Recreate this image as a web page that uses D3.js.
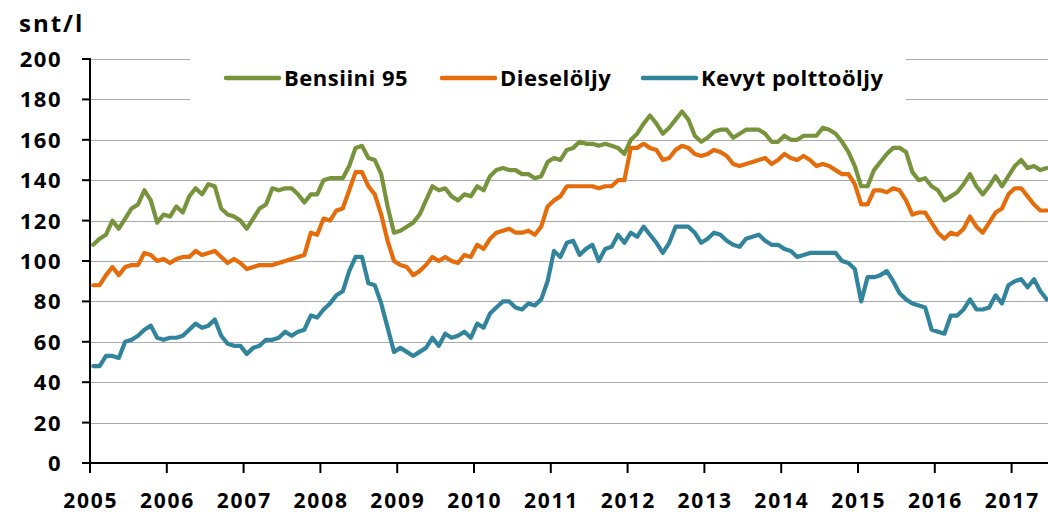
<!DOCTYPE html>
<html>
<head>
<meta charset="utf-8">
<script src="https://cdn.jsdelivr.net/npm/d3@7"></script>
<style>
  body { margin: 0; background: #fff; }
  text { font-family: "Open Sans", "Liberation Sans", sans-serif; font-weight: 700; fill: #000; }
</style>
</head>
<body>
<svg id="chart" width="1048" height="515"></svg>
<script>
// Monthly fuel prices, snt/l, January 2005 – June 2017
const yearLabels = ["2005","2006","2007","2008","2009","2010","2011","2012","2013","2014","2015","2016","2017"];
const yTicks = [0, 20, 40, 60, 80, 100, 120, 140, 160, 180, 200];
const seriesNames = ["Bensiini 95", "Dieselöljy", "Kevyt polttoöljy"];

const bensiini95 = [
  108, 111, 113, 120, 116, 121, 126, 128, 135, 130, 119, 123,
  122, 127, 124, 132, 136, 133, 138, 137, 126, 123, 122, 120,
  116, 121, 126, 128, 136, 135, 136, 136, 133, 129, 133, 133,
  140, 141, 141, 141, 147, 156, 157, 151, 150, 143, 127, 114,
  115, 117, 119, 123, 130, 137, 135, 136, 132, 130, 133, 132,
  137, 135, 142, 145, 146, 145, 145, 143, 143, 141, 142, 149,
  151, 150, 155, 156, 159, 158, 158, 157, 158, 157, 156, 153,
  160, 163, 168, 172, 168, 163, 166, 170, 174, 170, 162, 159,
  161, 164, 165, 165, 161, 163, 165, 165, 165, 163, 159, 159,
  162, 160, 160, 162, 162, 162, 166, 165, 163, 159, 154, 147,
  137, 137, 145, 149, 153, 156, 156, 154, 144, 140, 141, 137,
  135, 130, 132, 134, 138, 143, 137, 133, 137, 142, 137, 142,
  147, 150, 146, 147, 145, 146
];

const dieselolja = [
   88,  88,  93,  97,  93,  97,  98,  98, 104, 103, 100, 101,
   99, 101, 102, 102, 105, 103, 104, 105, 102,  99, 101,  99,
   96,  97,  98,  98,  98,  99, 100, 101, 102, 103, 114, 113,
  121, 120, 125, 126, 135, 144, 144, 137, 133, 123, 110, 100,
   98,  97,  93,  95,  98, 102, 100, 102, 100,  99, 103, 102,
  108, 106, 111, 114, 115, 116, 114, 114, 115, 113, 117, 127,
  130, 132, 137, 137, 137, 137, 137, 136, 137, 137, 140, 140,
  156, 156, 158, 156, 155, 150, 151, 155, 157, 156, 153, 152,
  153, 155, 154, 152, 148, 147, 148, 149, 150, 151, 148, 150,
  153, 151, 150, 152, 150, 147, 148, 147, 145, 143, 143, 138,
  128, 128, 135, 135, 134, 136, 135, 130, 123, 124, 124, 119,
  114, 111, 114, 113, 116, 122, 117, 114, 119, 124, 126, 133,
  136, 136, 132, 128, 125, 125
];

const kevytPolttooljy = [
   48,  48,  53,  53,  52,  60,  61,  63,  66,  68,  62,  61,
   62,  62,  63,  66,  69,  67,  68,  71,  63,  59,  58,  58,
   54,  57,  58,  61,  61,  62,  65,  63,  65,  66,  73,  72,
   76,  79,  83,  85,  95, 102, 102,  89,  88,  79,  67,  55,
   57,  55,  53,  55,  57,  62,  58,  64,  62,  63,  65,  62,
   69,  67,  74,  77,  80,  80,  77,  76,  79,  78,  81,  90,
  105, 102, 109, 110, 103, 106, 108, 100, 106, 107, 113, 109,
  114, 112, 117, 113, 109, 104, 109, 117, 117, 117, 114, 109,
  111, 114, 113, 110, 108, 107, 111, 112, 113, 110, 108, 108,
  106, 105, 102, 103, 104, 104, 104, 104, 104, 100,  99,  96,
   80,  92,  92,  93,  95,  90,  84,  81,  79,  78,  77,  66,
   65,  64,  73,  73,  76,  81,  76,  76,  77,  83,  79,  88,
   90,  91,  87,  91,  85,  81
];

const seriesColors = ["#77933C", "#E46C0A", "#31849B"];
const seriesValues = [bensiini95, dieselolja, kevytPolttooljy];

const svg = d3.select("#chart");
const plotLeft = 90, plotRight = 1048, plotTop = 59, plotBottom = 463;

// month index scale: each month occupies one unit, points sit mid-month
const x = d3.scaleLinear().domain([0, 150]).range([plotLeft, plotLeft + 960]);
const y = d3.scaleLinear().domain([0, 200]).range([plotBottom, plotTop]);

// horizontal gridlines
svg.append("g")
  .selectAll("line")
  .data(yTicks.filter(d => d > 0))
  .join("line")
  .attr("x1", plotLeft).attr("x2", plotRight)
  .attr("y1", d => Math.round(y(d)) + 0.5).attr("y2", d => Math.round(y(d)) + 0.5)
  .attr("stroke", "#a9a9a9").attr("stroke-width", 1.2);

// data lines
const line = d3.line()
  .x((d, i) => x(i + 0.5))
  .y(d => y(d))
  .curve(d3.curveLinear);

svg.append("g")
  .selectAll("path")
  .data(seriesValues)
  .join("path")
  .attr("d", d => line(d))
  .attr("fill", "none")
  .attr("stroke", (d, i) => seriesColors[i])
  .attr("stroke-width", 4.2)
  .attr("stroke-linejoin", "round")
  .attr("stroke-linecap", "round");

// y axis
const yAxisG = svg.append("g");
yAxisG.append("line")
  .attr("x1", plotLeft).attr("x2", plotLeft)
  .attr("y1", plotTop - 1).attr("y2", plotBottom + 1)
  .attr("stroke", "#000").attr("stroke-width", 2);
yAxisG.selectAll("line.tick")
  .data(yTicks)
  .join("line")
  .attr("class", "tick")
  .attr("x1", plotLeft - 8).attr("x2", plotLeft)
  .attr("y1", d => y(d)).attr("y2", d => y(d))
  .attr("stroke", "#000").attr("stroke-width", 2);
yAxisG.selectAll("text")
  .data(yTicks)
  .join("text")
  .attr("x", 62)
  .attr("y", d => y(d))
  .attr("dy", "0.36em")
  .attr("text-anchor", "end")
  .style("font-size", "22px")
  .style("letter-spacing", "1.5px")
  .text(d => d);

// x axis
const xAxisG = svg.append("g");
xAxisG.append("line")
  .attr("x1", plotLeft - 8).attr("x2", plotRight)
  .attr("y1", plotBottom).attr("y2", plotBottom)
  .attr("stroke", "#000").attr("stroke-width", 2);
xAxisG.selectAll("line.tick")
  .data(yearLabels)
  .join("line")
  .attr("class", "tick")
  .attr("x1", (d, i) => x(i * 12)).attr("x2", (d, i) => x(i * 12))
  .attr("y1", plotBottom).attr("y2", plotBottom + 10)
  .attr("stroke", "#000").attr("stroke-width", 2);
xAxisG.selectAll("text")
  .data(yearLabels)
  .join("text")
  .attr("x", (d, i) => x(i * 12) + 0.75)
  .attr("y", 508)
  .attr("text-anchor", "middle")
  .style("font-size", "21px")
  .style("letter-spacing", "1.8px")
  .text(d => d);

// unit label
svg.append("text")
  .attr("x", 19).attr("y", 32)
  .style("font-size", "24px")
  .style("letter-spacing", "2px")
  .text("snt/l");

// legend
const legend = svg.append("g");
legend.append("rect")
  .attr("x", 190).attr("y", 50).attr("width", 716).attr("height", 58)
  .attr("fill", "#fff");
const legendX = [226, 442, 643];
const legendItems = legend.selectAll("g.item")
  .data(seriesNames)
  .join("g")
  .attr("class", "item")
  .attr("transform", (d, i) => `translate(${legendX[i]},78)`);
legendItems.append("line")
  .attr("x1", 0).attr("x2", 53)
  .attr("y1", 0).attr("y2", 0)
  .attr("stroke", (d, i) => seriesColors[i])
  .attr("stroke-width", 4.5)
  .attr("stroke-linecap", "round");
legendItems.append("text")
  .attr("x", 58).attr("y", 0).attr("dy", "0.35em")
  .style("font-size", "22px")
  .style("letter-spacing", "0.5px")
  .text(d => d);
</script>
</body>
</html>
